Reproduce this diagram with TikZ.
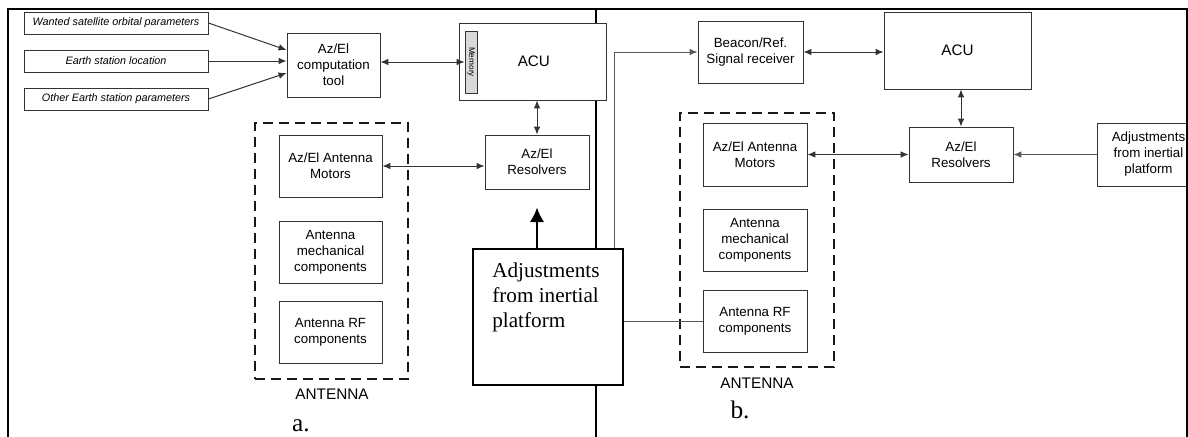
\documentclass[tikz,border=0pt]{standalone}
\usepackage{fontspec}
\setmainfont{Liberation Serif}
\setsansfont{Liberation Sans}
\usetikzlibrary{arrows.meta,calc,shadows}

% rectangle node given by its corners: [style]{name}{x1}{y1}{x2}{y2}{text}
\newcommand\rectnode[7][]{%
  \node[#1, minimum width={(#5-#3)*0.75pt}, minimum height={(#6-#4)*0.75pt}]
    (#2) at ({(#3+#5)/2},{(#4+#6)/2}) {#7};}

\begin{document}
\begin{tikzpicture}[x=0.75pt, y=-0.75pt,
  blk/.style={draw=black!80, line width=0.7pt, fill=white, inner sep=0pt, align=center,
    font=\sffamily\fontsize{10}{12}\selectfont},
  inbox/.style={blk, font=\sffamily\itshape\fontsize{8.1}{10}\selectfont},
  acubox/.style={blk, font=\sffamily\fontsize{11.4}{13}\selectfont,
    drop shadow={shadow xshift=1.1pt, shadow yshift=-1.1pt, fill=black!45, opacity=1}},
  membar/.style={draw=black!80, line width=0.6pt, fill=black!15, inner sep=0pt},
  antbox/.style={draw=black!90, line width=1.9pt, dash pattern=on 7.5pt off 4.5pt, inner sep=0pt},
  antlbl/.style={font=\sffamily\fontsize{11.5}{13}\selectfont, anchor=base},
  panlbl/.style={font=\rmfamily\fontsize{19}{22}\selectfont, anchor=base},
  frame/.style={line width=1.6pt, black},
  conn/.style={draw=black!80, line width=0.75pt},
  tip/.style={conn, -{Latex[length=6pt,width=5pt]}},
  biarrow/.style={conn, {Latex[length=6pt,width=5pt]}-{Latex[length=6pt,width=5pt]}},
  bigtip/.style={draw=black, line width=1.8pt, -{Latex[length=11pt,width=11pt]}},
]
\useasboundingbox (0,0) rectangle (1188,436);

% outer frame and panel divider
\draw[frame] (8,440) -- (8,9) -- (1187,9) -- (1187,440);
\draw[frame] (596,9) -- (596,440);

% ---------- panel a ----------
\rectnode[inbox]{wanted}{24}{12}{208}{34}{Wanted satellite orbital parameters}
\rectnode[inbox]{earth}{24}{50}{208}{72}{Earth station location}
\rectnode[inbox]{other}{24}{88}{208}{110}{Other Earth station parameters}
\rectnode[blk]{comp}{287}{33}{380}{97}{Az/El\\computation\\tool}

\rectnode[acubox]{acuA}{459}{23}{606}{100}{\hspace*{2pt}ACU}
\rectnode[membar]{mem}{465}{31}{477}{93}{}
\node[rotate=-90, font=\sffamily\fontsize{6.2}{7}\selectfont, inner sep=0pt] (memtxt) at (mem.center) {Memory};

\rectnode[blk]{resA}{485}{135}{589}{189}{Az/El\\Resolvers}

\rectnode[antbox]{antA}{255}{123}{408}{379}{}
\rectnode[blk]{motA}{279}{135}{382}{197}{Az/El Antenna\\Motors}
\rectnode[blk]{mechA}{279}{221}{382}{283}{Antenna\\mechanical\\components}
\rectnode[blk]{rfA}{279}{301}{382}{363}{Antenna RF\\components}
\node[antlbl] (antAlbl) at (332,399) {ANTENNA};
\node[panlbl] (panA) at (301,431) {a.};

\node[draw=black, line width=1.5pt, fill=white, inner sep=0pt, minimum width=112.5pt,
      minimum height=102pt, anchor=north west] (adjA) at (472,248)
  {\parbox[c][102pt][t]{112.5pt}{\rmfamily\fontsize{15.9}{18.75}\selectfont\raggedright
   \leftskip=14.5pt\vspace*{10.5pt}Adjustments\\from inertial\\platform}};

\draw[tip] (wanted.east) -- ([yshift=11.25pt]comp.west);
\draw[tip] (earth.east) -- (earth.east -| comp.west);
\draw[tip] (other.east) -- ([yshift=-6pt]comp.west);
\draw[biarrow] (comp.east |- mem.west) -- (mem.west);
\draw[biarrow] (resA.north |- acuA.south) -- (resA.north);
\draw[biarrow] (motA.east) -- (motA.east -| resA.west);
\draw[bigtip] (adjA.north -| resA.south) -- ([yshift=-13.5pt]resA.south);

% ---------- panel b ----------
\rectnode[blk]{beacon}{698}{21}{803}{83}{Beacon/Ref.\\Signal receiver}
\rectnode[acubox]{acuB}{884}{12}{1031}{89}{ACU}
\rectnode[blk]{resB}{909}{127}{1013}{182}{Az/El\\Resolvers}
\rectnode[blk]{adjB}{1097}{123}{1200}{186}{Adjustments\\from inertial\\platform}

\rectnode[antbox]{antB}{680}{113}{834}{367}{}
\rectnode[blk]{motB}{703}{123}{807}{186}{Az/El Antenna\\Motors}
\rectnode[blk]{mechB}{703}{209}{807}{271}{Antenna\\mechanical\\components}
\rectnode[blk]{rfB}{703}{290}{807}{352}{Antenna RF\\components}
\node[antlbl] (antBlbl) at (757,388) {ANTENNA};
\node[panlbl] (panB) at (740,418) {b.};

\draw[biarrow] (beacon.east) -- (beacon.east -| acuB.west);
\draw[biarrow] (resB.north |- acuB.south) -- (resB.north);
\draw[biarrow] (motB.east) -- (resB.west);
\draw[tip, draw=black!65] (adjB.west) -- (resB.east);

% links from the inertial platform box of panel a
\draw[tip, draw=black!65] ([xshift=-7.5pt]adjA.north east) |- (beacon.west);
\draw[conn, draw=black!65] (adjA.east |- rfB.west) -- (rfB.west);

% frame edge over the clipped box on the right
\draw[frame] (1187,9) -- (1187,440);
\end{tikzpicture}
\end{document}
